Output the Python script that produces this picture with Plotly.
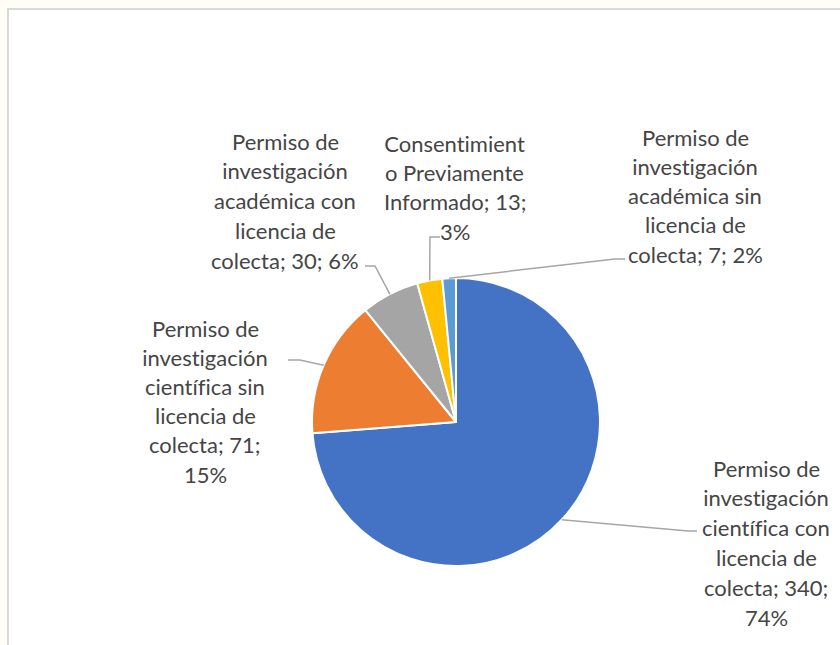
import math
import plotly.graph_objects as go

# ---- data ----
categories = [
    "Permiso de investigación científica con licencia de colecta",
    "Permiso de investigación científica sin licencia de colecta",
    "Permiso de investigación académica con licencia de colecta",
    "Consentimiento Previamente Informado",
    "Permiso de investigación académica sin licencia de colecta",
]
values = [340, 71, 30, 13, 7]
colors = ["#4472C4", "#ED7D31", "#A5A5A5", "#FFC000", "#5B9BD5"]
label_lines = [
    ["Permiso de", "investigación", "científica con", "licencia de", "colecta; 340;", "74%"],
    ["Permiso de", "investigación", "científica sin", "licencia de", "colecta; 71;", "15%"],
    ["Permiso de", "investigación", "académica con", "licencia de", "colecta; 30; 6%"],
    ["Consentimient", "o Previamente", "Informado; 13;", "3%"],
    ["Permiso de", "investigación", "académica sin", "licencia de", "colecta; 7; 2%"],
]

# ---- layout (pixels) ----
W, H = 840, 645
CX, CY, R = 456, 422, 144
# label block: center x, first line y, line step
label_pos = [(766, 468, 29.8), (205, 328, 29.2), (285, 141, 29.8), (455, 143, 29.4), (695, 137, 29.3)]
# leader elbow and end points
leader_pts = [
    [(688, 531), (697, 531)],
    [(300, 360), (288, 360)],
    [(375, 266), (365, 266)],
    [(430, 237), (440, 237)],
    [(615, 259), (625, 259)],
]


def px(x):
    return x / W


def py(y):
    return 1 - y / H


fig = go.Figure(
    go.Pie(
        labels=categories,
        values=values,
        sort=False,
        direction="clockwise",
        rotation=0,
        marker=dict(colors=colors, line=dict(color="white", width=2)),
        textinfo="none",
        showlegend=False,
        domain=dict(x=[px(CX - R), px(CX + R)], y=[py(CY + R), py(CY - R)]),
    )
)

shapes = [
    dict(type="rect", xref="paper", yref="paper", x0=px(8), x1=1.02, y0=-0.02, y1=py(9),
         line=dict(color="#d9d9d9", width=2), fillcolor="white", layer="below")
]

total = sum(values)
cum = 0
annotations = []
for i, v in enumerate(values):
    mid = (cum + v / 2) / total * 2 * math.pi
    cum += v
    sx = CX + R * math.sin(mid)
    sy = CY - R * math.cos(mid)
    (ex, ey), (fx, fy) = leader_pts[i]
    shapes.append(dict(
        type="path", xref="paper", yref="paper",
        path=f"M {px(sx)} {py(sy)} L {px(ex)} {py(ey)} L {px(fx)} {py(fy)}",
        line=dict(color="#a6a6a6", width=1.5), layer="above",
    ))
    lx, ly, step = label_pos[i]
    for j, t in enumerate(label_lines[i]):
        annotations.append(dict(
            text=t, xref="paper", yref="paper", x=px(lx), y=py(ly + j * step),
            xanchor="center", yanchor="middle", showarrow=False,
            font=dict(family="Lato, Carlito, sans-serif", size=22, color="#454545"),
        ))

fig.update_layout(
    width=W, height=H,
    margin=dict(l=0, r=0, t=0, b=0),
    paper_bgcolor="#fffdf5",
    plot_bgcolor="white",
    shapes=shapes,
    annotations=annotations,
)

fig.write_html(
    "out.html",
    config={"displayModeBar": False},
    post_script=(
        "document.body.style.margin='0';"
        "document.body.style.background='#fffdf5';"
        "document.body.style.overflow='hidden';"
        "var s=document.createElement('style');"
        "s.textContent='text{font-variant-ligatures:none;font-feature-settings:\"liga\" 0;}';"
        "document.head.appendChild(s);"
    ),
)
